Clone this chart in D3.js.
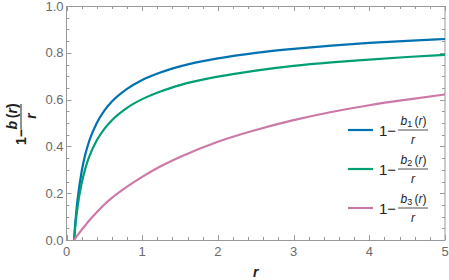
<!DOCTYPE html>
<html>
<head>
<meta charset="utf-8">
<script src="https://cdn.jsdelivr.net/npm/d3@7"></script>
<style>
  html, body { margin: 0; padding: 0; background: #fff; }
  svg { display: block; font-family: 'Liberation Sans', Arial, sans-serif; }
</style>
</head>
<body>
<div id="chart"></div>
<script>
// values
const rValues = [0.1, 0.11, 0.12, 0.13, 0.15, 0.2, 0.25, 0.3, 0.4, 0.5, 0.6, 0.8, 1, 1.25, 1.5, 2, 2.5, 3, 3.5, 4, 4.5, 5]
const b1Values = [0, 0.047, 0.087, 0.123, 0.183, 0.293, 0.368, 0.423, 0.5, 0.553, 0.592, 0.646, 0.684, 0.717, 0.742, 0.776, 0.8, 0.817, 0.831, 0.842, 0.851, 0.859]
const b2Values = [0, 0.037, 0.07, 0.1, 0.15, 0.242, 0.307, 0.356, 0.426, 0.475, 0.512, 0.565, 0.602, 0.636, 0.662, 0.698, 0.724, 0.744, 0.759, 0.771, 0.782, 0.791]
const b3Values = [0, 0.0045, 0.009, 0.0135, 0.022, 0.043, 0.063, 0.083, 0.119, 0.152, 0.18, 0.228, 0.27, 0.316, 0.355, 0.42, 0.47, 0.512, 0.547, 0.576, 0.6, 0.622]

const seriesNames = ['1', '2', '3']
const seriesColors = ['#0072B2', '#009E73', '#CC79A7']
const xTicks = [0, 1, 2, 3, 4, 5]
const yTicks = [0, 0.2, 0.4, 0.6, 0.8, 1.0]

const width = 449, height = 280
const plotLeft = 66.5, plotRight = 445, plotTop = 6, plotBottom = 240

const svg = d3.select('#chart')
  .append('svg')
  .attr('width', width)
  .attr('height', height)

const x = d3.scaleLinear().domain([0, 5]).range([plotLeft, plotRight])
const y = d3.scaleLinear().domain([0, 1]).range([plotBottom, plotTop])

// clip for the curves
svg.append('clipPath').attr('id', 'plotClip')
  .append('rect')
  .attr('x', plotLeft).attr('y', plotTop)
  .attr('width', plotRight - plotLeft).attr('height', plotBottom - plotTop)

// frame ticks (all four sides, inside)
const frameColor = '#999'
const xMinor = d3.range(0, 5.001, 0.2).filter(v => Math.abs(v - Math.round(v)) > 1e-6)
const yMinor = d3.range(0, 1.001, 0.05).filter(v => Math.abs(v * 5 - Math.round(v * 5)) > 1e-6)

const ticks = svg.append('g').attr('stroke', frameColor).attr('stroke-width', 1)
function vTicks(vals, len) {
  vals.forEach(v => {
    const px = Math.round(x(v)) + 0.5
    ticks.append('line').attr('x1', px).attr('x2', px).attr('y1', plotBottom).attr('y2', plotBottom - len)
    ticks.append('line').attr('x1', px).attr('x2', px).attr('y1', plotTop).attr('y2', plotTop + len)
  })
}
function hTicks(vals, len) {
  vals.forEach(v => {
    const py = Math.round(y(v)) + 0.5
    ticks.append('line').attr('y1', py).attr('y2', py).attr('x1', plotLeft).attr('x2', plotLeft + len)
    ticks.append('line').attr('y1', py).attr('y2', py).attr('x1', plotRight).attr('x2', plotRight - len)
  })
}
vTicks(xTicks, 5)
vTicks(xMinor, 3)
hTicks(yTicks, 5)
hTicks(yMinor, 3)

svg.append('rect')
  .attr('x', plotLeft).attr('y', plotTop + 0.5)
  .attr('width', plotRight - plotLeft).attr('height', plotBottom - plotTop)
  .attr('fill', 'none')
  .attr('stroke', frameColor)

// tick labels
svg.append('g').selectAll('text')
  .data(xTicks)
  .join('text')
  .attr('x', d => x(d))
  .attr('y', 255.5)
  .attr('text-anchor', 'middle')
  .attr('fill', '#6a6a6a')
  .attr('font-size', '13px')
  .text(d => d)

svg.append('g').selectAll('text')
  .data(yTicks)
  .join('text')
  .attr('x', 63.5)
  .attr('y', d => y(d) + 4.6)
  .attr('text-anchor', 'end')
  .attr('fill', '#6a6a6a')
  .attr('font-size', '13px')
  .text(d => d3.format('.1f')(d))

// curves
const series = [b1Values, b2Values, b3Values].map((vals, i) => ({
  name: seriesNames[i],
  color: seriesColors[i],
  points: rValues.map((r, j) => [r, vals[j]])
}))

const line = d3.line()
  .x(d => x(d[0]))
  .y(d => y(d[1]))
  .curve(d3.curveMonotoneX)

svg.append('g')
  .attr('clip-path', 'url(#plotClip)')
  .selectAll('path')
  .data(series)
  .join('path')
  .attr('d', d => line(d.points))
  .attr('fill', 'none')
  .attr('stroke', d => d.color)
  .attr('stroke-width', 2.2)

// legend
const legend = svg.append('g')
series.forEach((s, i) => {
  const cy = 130 + i * 39
  const g = legend.append('g').attr('transform', `translate(0,${cy})`)
  g.append('line')
    .attr('x1', 348).attr('x2', 373)
    .attr('stroke', s.color).attr('stroke-width', 2.2)
  g.append('text')
    .attr('x', 379).attr('y', 5.5)
    .attr('font-size', '15px').attr('fill', '#222')
    .text('1\u2212')
  g.append('line')
    .attr('x1', 398).attr('x2', 428)
    .attr('stroke', '#222').attr('stroke-width', 0.8)
  const num = g.append('text')
    .attr('x', 413.5).attr('y', -5)
    .attr('text-anchor', 'middle')
    .attr('font-size', '12px').attr('fill', '#222')
  num.append('tspan').attr('font-style', 'italic').text('b')
  num.append('tspan').attr('font-size', '9px').attr('dy', 2).text(s.name)
  num.append('tspan').attr('dy', -2).text('\u2009(')
  num.append('tspan').attr('font-style', 'italic').text('r')
  num.append('tspan').text(')')
  g.append('text')
    .attr('x', 413).attr('y', 13.5)
    .attr('text-anchor', 'middle')
    .attr('font-size', '12px').attr('font-style', 'italic').attr('fill', '#222')
    .text('r')
})

// axis labels
svg.append('text')
  .attr('x', (plotLeft + plotRight) / 2)
  .attr('y', 277)
  .attr('text-anchor', 'middle')
  .attr('font-size', '14px')
  .attr('font-weight', 'bold')
  .attr('font-style', 'italic')
  .attr('fill', '#222')
  .text('r')

const yl = svg.append('g').attr('transform', 'translate(21,123) rotate(-90)')
yl.append('text')
  .attr('x', -6).attr('y', 4.5)
  .attr('text-anchor', 'end')
  .attr('font-size', '14px').attr('font-weight', 'bold').attr('fill', '#222')
  .text('1\u2212')
yl.append('line')
  .attr('x1', -6).attr('x2', 19)
  .attr('stroke', '#222').attr('stroke-width', 1)
const yNum = yl.append('text')
  .attr('x', 6.5).attr('y', -4)
  .attr('text-anchor', 'middle')
  .attr('font-size', '14px').attr('font-weight', 'bold').attr('fill', '#222')
yNum.append('tspan').attr('font-style', 'italic').text('b')
yNum.append('tspan').text('\u2009(')
yNum.append('tspan').attr('font-style', 'italic').text('r')
yNum.append('tspan').text(')')
yl.append('text')
  .attr('x', 7).attr('y', 14.5)
  .attr('text-anchor', 'middle')
  .attr('font-size', '14px').attr('font-weight', 'bold').attr('font-style', 'italic').attr('fill', '#222')
  .text('r')
</script>
</body>
</html>
